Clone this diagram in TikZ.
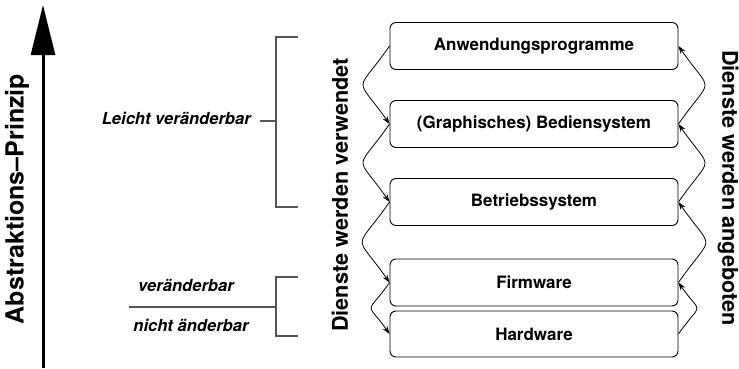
\documentclass[tikz,border=0pt]{standalone}
\usepackage{fontspec}
\setmainfont{TeX Gyre Heros}
\usetikzlibrary{arrows.meta}
\definecolor{brk}{HTML}{555555}
\tikzset{
  layer/.style={draw=black, line width=0.9pt, rounded corners=6pt,
    minimum width=288pt, minimum height=47pt, inner sep=0pt,
    font=\fontsize{17}{19}\selectfont\bfseries},
  use/.style={-{Stealth[length=8pt,width=5.5pt]}, line width=0.8pt},
  side/.style={font=\fontsize{21.7}{24}\selectfont\bfseries, inner sep=0pt},
  note/.style={font=\fontsize{16.6}{18}\selectfont\bfseries\itshape, inner sep=0pt},
  bracket/.style={draw=brk, line width=1.1pt},
}
\begin{document}
\begin{tikzpicture}[x=1pt,y=1pt]
\useasboundingbox (0,0) rectangle (739,368);

% software / hardware layers
\node[layer] (app)  at (534,322)   {Anwendungsprogramme};
\node[layer] (gui)  at (534,244)   {(Graphisches) Bediensystem};
\node[layer] (os)   at (534,166)   {Betriebssystem};
\node[layer] (fw)   at (534,85.5)  {Firmware};
\node[layer, minimum height=46pt] (hw) at (534,34) {Hardware};

% services used (left side, downwards)
\draw[use] (app.west) to[out=235,in=125,looseness=2.0] (gui.west);
\draw[use] (gui.west) to[out=235,in=125,looseness=2.0] (os.west);
\draw[use] (os.west)  to[out=235,in=125,looseness=2.0] (fw.west);
\draw[use] (fw.west)  to[out=235,in=125,looseness=2.1] (hw.west);

% services offered (right side, upwards)
\draw[use] (hw.east)  to[out=55,in=-55,looseness=2.1] (fw.east);
\draw[use] (fw.east)  to[out=55,in=-55,looseness=2.0] (os.east);
\draw[use] (os.east)  to[out=55,in=-55,looseness=2.0] (gui.east);
\draw[use] (gui.east) to[out=55,in=-55,looseness=2.0] (app.east);

\node[side, rotate=90]  (used)    at (340,173) {Dienste werden verwendet};
\node[side, rotate=-90] (offered) at (728,180) {Dienste werden angeboten};

% abstraction axis
\coordinate (axb) at (43,0);
\coordinate (axt) at (43,363);
\draw[line width=3pt, -{Triangle[length=50pt,width=24pt]}] (axb) -- (axt);
\node[font=\fontsize{25}{28}\selectfont\bfseries, rotate=90, inner sep=0pt]
  (abs) at (17,169) {Abstraktions--Prinzip};

% bracket: easily changeable layers
\coordinate (b1t) at (298,331);
\coordinate (b1b) at (298,161);
\coordinate (b1m) at (276,247);
\coordinate (b1s) at (260,247);
\draw[bracket] (b1t) -| (276,161) -- (b1b);
\draw[bracket] (b1m) -- (b1s);
\node[note, anchor=east] (easy) at (251,250) {Leicht veränderbar};

% bracket: changeable / not changeable
\coordinate (b2t) at (298,91);
\coordinate (b2b) at (298,32);
\coordinate (b2m) at (276,61);
\coordinate (b2s) at (129,61);
\draw[bracket] (b2t) -| (276,32) -- (b2b);
\draw[bracket] (b2m) -- (b2s);
\node[note] (chg)   at (186,83) {veränderbar};
\node[note] (nochg) at (191,43) {nicht änderbar};
\end{tikzpicture}
\end{document}
